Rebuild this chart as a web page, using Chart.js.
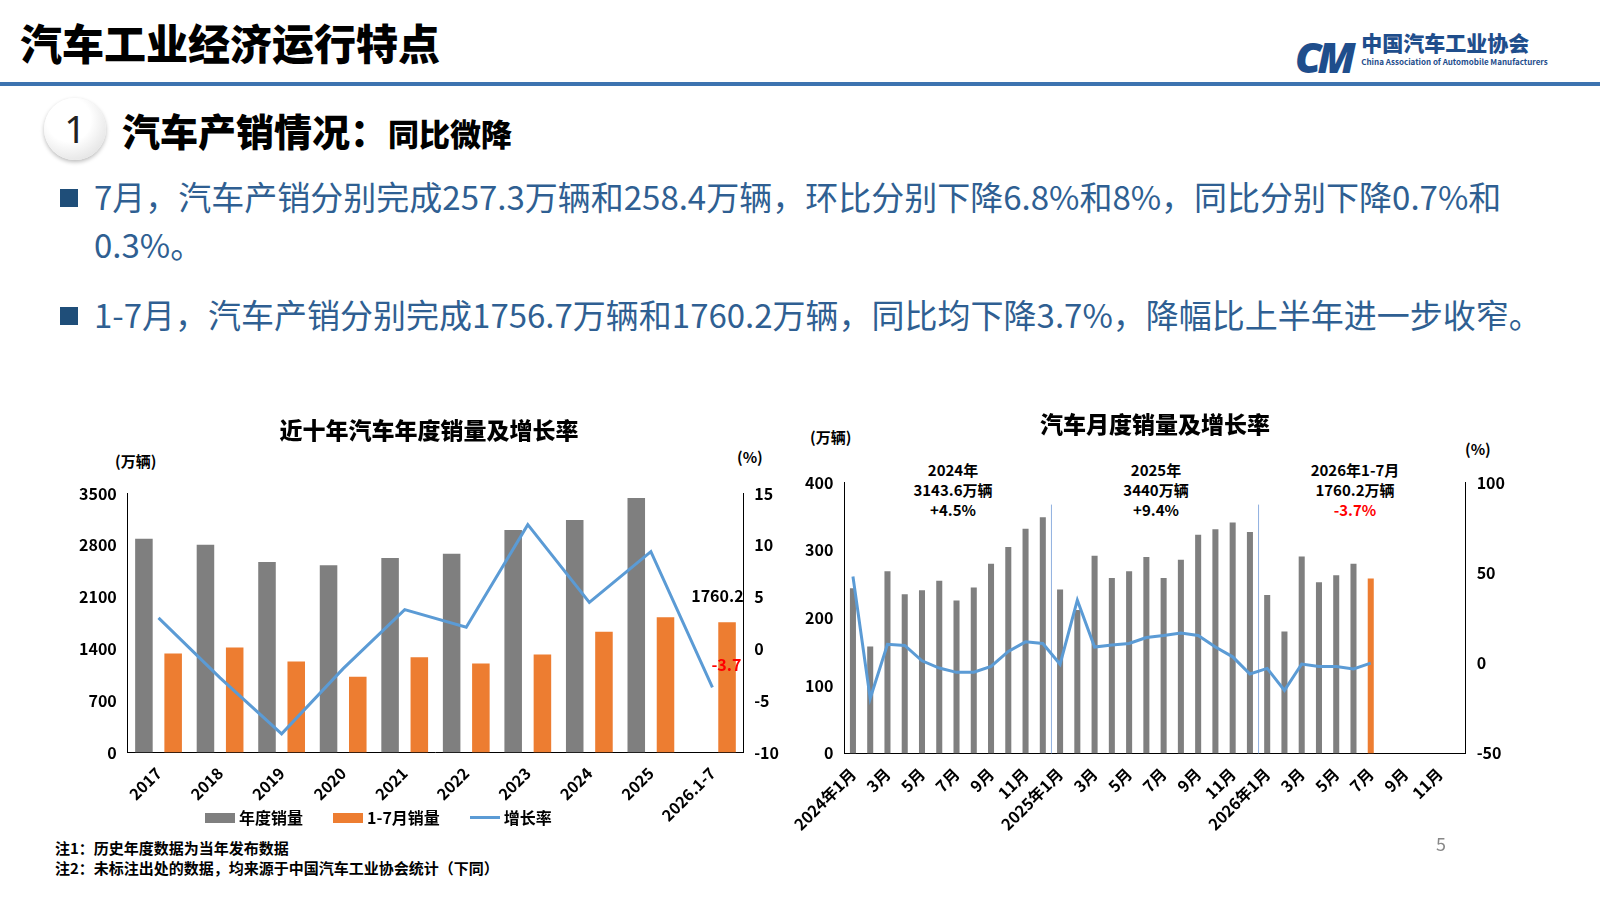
<!DOCTYPE html>
<html>
<head>
<meta charset="utf-8">
<script src="https://cdn.jsdelivr.net/npm/chart.js@4"></script>
<style>
  body { margin: 0; width: 1600px; height: 900px; background: #fff; font-family: "Noto Sans CJK SC", "Noto Sans", sans-serif; position: relative; overflow: hidden; }
  .abs { position: absolute; }
  #title { left: 20px; top: 11px; font-size: 42px; font-weight: 900; color: #000; }
  #rule { left: 0; top: 82px; width: 1600px; height: 4px; background: #3d73b0; }
  #logo { left: 1295px; top: 28px; }
  #circle { left: 44px; top: 98px; width: 62px; height: 62px; border-radius: 50%; background: radial-gradient(circle at 40% 35%, #fff 40%, #d6d6d6 100%); box-shadow: 0 2px 4px #bbb; font-size: 38px; color: #222; text-align: center; line-height: 60px; font-family: "Noto Sans"; }
  #sub { left: 122px; top: 102px; font-size: 38px; font-weight: 900; }
  #sub span { font-size: 31px; }
  .bul { left: 60px; font-size: 33px; color: #2f5f92; line-height: 48px; width: 1520px; }
  .bul i { display: inline-block; width: 18px; height: 18px; background: #1f4e79; margin-right: 16px; vertical-align: 3px; }
  .bul p { margin: 0; padding-left: 34px; text-indent: -34px; }
  .note { left: 55px; font-size: 15px; font-weight: 700; color: #000; }
  .ann { font-size: 15px; font-weight: 700; text-align: center; line-height: 20px; color: #000; }
  .unit { font-size: 15px; font-weight: 700; }
  #leg1 { left: 205px; top: 805px; font-size: 16px; font-weight: 700; }
  #leg1 b { display: inline-block; width: 30px; height: 10px; margin-right: 4px; vertical-align: 1px; }
  #leg1 span { margin-right: 30px; }
</style>
</head>
<body>
<div id="title" class="abs">汽车工业经济运行特点</div>
<div id="rule" class="abs"></div>
<div id="logo" class="abs">
  <span style="font:italic 900 42px 'Noto Sans';color:#1f4e8c;letter-spacing:-4px;vertical-align:top">CM</span>
  <span style="display:inline-block;margin-left:6px">
    <span style="font-size:21px;font-weight:900;color:#1f4e8c;display:block;line-height:28px">中国汽车工业协会</span>
    <span style="font-size:8px;font-weight:700;color:#1f4e8c;display:block">China Association of Automobile Manufacturers</span>
  </span>
</div>
<div id="circle" class="abs">1</div>
<div id="sub" class="abs">汽车产销情况：<span>同比微降</span></div>
<div class="abs bul" style="top:172px"><p><i></i>7月，汽车产销分别完成257.3万辆和258.4万辆，环比分别下降6.8%和8%，同比分别下降0.7%和0.3%。</p></div>
<div class="abs bul" style="top:290px"><p><i></i>1-7月，汽车产销分别完成1756.7万辆和1760.2万辆，同比均下降3.7%，降幅比上半年进一步收窄。</p></div>

<div class="abs unit" style="left:115px;top:450px">(万辆)</div>
<div class="abs unit" style="left:737px;top:446px">(%)</div>
<div class="abs unit" style="left:810px;top:426px">(万辆)</div>
<div class="abs unit" style="left:1465px;top:438px">(%)</div>
<div class="abs ann" style="left:893px;top:460px;width:120px">2024年<br>3143.6万辆<br>+4.5%</div>
<div class="abs ann" style="left:1096px;top:460px;width:120px">2025年<br>3440万辆<br>+9.4%</div>
<div class="abs ann" style="left:1290px;top:460px;width:130px">2026年1-7月<br>1760.2万辆<br><span style="color:#ff0000">-3.7%</span></div>

<canvas id="chart-1" class="abs" style="left:62px;top:410px" width="720" height="418"></canvas>
<canvas id="chart-2" class="abs" style="left:790px;top:402px" width="740" height="435"></canvas>

<div id="leg1" class="abs"><span><b style="background:#7f7f7f"></b>年度销量</span><span><b style="background:#ed7d31"></b>1-7月销量</span><span><b style="height:3px;background:#5b9bd5;vertical-align:5px"></b>增长率</span></div>

<div class="abs note" style="top:837px">注1：历史年度数据为当年发布数据</div>
<div class="abs note" style="top:857px">注2：未标注出处的数据，均来源于中国汽车工业协会统计（下同）</div>
<div class="abs" style="left:1436px;top:830px;font-size:18px;color:#888">5</div>

<script>
// ANNUAL CHART
const years = ['2017', '2018', '2019', '2020', '2021', '2022', '2023', '2024', '2025', '2026.1-7'];
const annualSales = [2888, 2808, 2577, 2531, 2628, 2686, 3009, 3144, 3440, null];
const janJulSales = [1337, 1418, 1231, 1025, 1289, 1202, 1324, 1631, 1827, 1760.2];
const annualGrowth = [3.0, -2.8, -8.2, -1.9, 3.8, 2.1, 12.0, 4.5, 9.4, -3.7];

// MONTHLY CHART
const months = [];
for (let y of [2024, 2025, 2026]) {
  for (let m = 1; m <= 12; m++) months.push(m === 1 ? y + '年1月' : m + '月');
}
const monthlySales = [
  244, 158, 269, 235, 241, 255, 226, 245, 280, 305, 332, 349,
  242, 212, 292, 259, 269, 290, 259, 286, 323, 331, 341, 327,
  234, 180, 291, 253, 263, 280, null, null, null, null, null, null
];
const monthlyLatest = [
  null, null, null, null, null, null, null, null, null, null, null, null,
  null, null, null, null, null, null, null, null, null, null, null, null,
  null, null, null, null, null, null, 258.4, null, null, null, null, null
];
const monthlyGrowth = [
  48, -19.6, 10.4, 9.8, 1.3, -2.7, -5.1, -5, -1.8, 6.5, 11.8, 10.9,
  -0.6, 34.9, 8.9, 10, 10.9, 14.2, 15.3, 16.7, 15.3, 8.9, 3.5, -6,
  -2.9, -15.1, -0.5, -1.8, -1.8, -3.2, 0, null, null, null, null, null
];

Chart.defaults.font.family = '"Noto Sans CJK SC", sans-serif';
Chart.defaults.color = '#000';
Chart.defaults.animation = false;

const tickFont = { size: 16, weight: 'bold' };
const plain = v => v;

const labelPlugin = {
  id: 'labels1',
  afterDatasetsDraw(chart) {
    const c = chart.ctx;
    const i = 9;
    const x = chart.scales.x.getPixelForValue(i);
    c.save();
    c.font = 'bold 16px "Noto Sans CJK SC"';
    c.textAlign = 'center';
    c.fillStyle = '#000';
    c.fillText('1760.2', x + 5, chart.scales.y.getPixelForValue(janJulSales[i]) - 20);
    c.fillStyle = '#ff0000';
    c.fillText('-3.7', x + 14, chart.scales.y1.getPixelForValue(annualGrowth[i]) - 16);
    c.restore();
  }
};

new Chart(document.getElementById('chart-1').getContext('2d'), {
  type: 'bar',
  data: {
    labels: years,
    datasets: [
      { label: '年度销量', data: annualSales, backgroundColor: '#7f7f7f', order: 2, barPercentage: 0.6, categoryPercentage: 0.95 },
      { label: '1-7月销量', data: janJulSales, backgroundColor: '#ed7d31', order: 2, barPercentage: 0.6, categoryPercentage: 0.95 },
      { label: '增长率', type: 'line', data: annualGrowth, yAxisID: 'y1', borderColor: '#5b9bd5', backgroundColor: '#5b9bd5', borderWidth: 3, pointRadius: 0, order: 1 }
    ]
  },
  options: {
    responsive: false,
    layout: { padding: { left: 14, right: 0, top: 0 } },
    plugins: {
      title: { display: true, text: '近十年汽车年度销量及增长率', font: { size: 23, weight: '900' }, padding: { top: 6, bottom: 50 } },
      legend: { display: false },
      tooltip: { enabled: false }
    },
    scales: {
      x: { grid: { display: false }, border: { color: '#000' }, ticks: { font: tickFont, maxRotation: 45, minRotation: 45 } },
      y: { min: 0, max: 3500, ticks: { stepSize: 700, font: tickFont, callback: plain }, grid: { display: false }, border: { color: '#000' } },
      y1: { position: 'right', min: -10, max: 15, ticks: { stepSize: 5, font: tickFont }, grid: { display: false }, border: { color: '#000' } }
    }
  },
  plugins: [labelPlugin]
});

const dividerPlugin = {
  id: 'dividers',
  beforeDatasetsDraw(chart) {
    const c = chart.ctx;
    const area = chart.chartArea;
    c.save();
    c.strokeStyle = '#8fb0e0';
    c.lineWidth = 1;
    for (const i of [11.5, 23.5]) {
      const x = chart.scales.x.getPixelForValue(i);
      c.beginPath();
      c.moveTo(x, area.top + 22);
      c.lineTo(x, area.bottom);
      c.stroke();
    }
    c.restore();
  }
};

new Chart(document.getElementById('chart-2').getContext('2d'), {
  type: 'bar',
  data: {
    labels: months,
    datasets: [
      { label: '销量', data: monthlySales, backgroundColor: '#7f7f7f', grouped: false, barPercentage: 0.35, categoryPercentage: 1, order: 2 },
      { label: '当月', data: monthlyLatest, backgroundColor: '#ed7d31', grouped: false, barPercentage: 0.35, categoryPercentage: 1, order: 2 },
      { label: '增长率', type: 'line', data: monthlyGrowth, yAxisID: 'y1', borderColor: '#5b9bd5', borderWidth: 3, pointRadius: 0, order: 1 }
    ]
  },
  options: {
    responsive: false,
    layout: { padding: { top: 0, left: 12, right: 22, bottom: 0 } },
    plugins: {
      title: { display: true, text: '汽车月度销量及增长率', font: { size: 23, weight: '900' }, padding: { top: 8, bottom: 45 } },
      legend: { display: false },
      tooltip: { enabled: false }
    },
    scales: {
      x: {
        grid: { display: false }, border: { color: '#000' },
        ticks: {
          font: tickFont, autoSkip: false, maxRotation: 45, minRotation: 45,
          callback(v, i) { return i % 2 === 0 ? months[i] : ''; }
        }
      },
      y: { min: 0, max: 400, ticks: { stepSize: 100, font: tickFont }, grid: { display: false }, border: { color: '#000' } },
      y1: { position: 'right', min: -50, max: 100, ticks: { stepSize: 50, font: tickFont }, grid: { display: false }, border: { color: '#000' } }
    }
  },
  plugins: [dividerPlugin]
});
</script>
</body>
</html>
